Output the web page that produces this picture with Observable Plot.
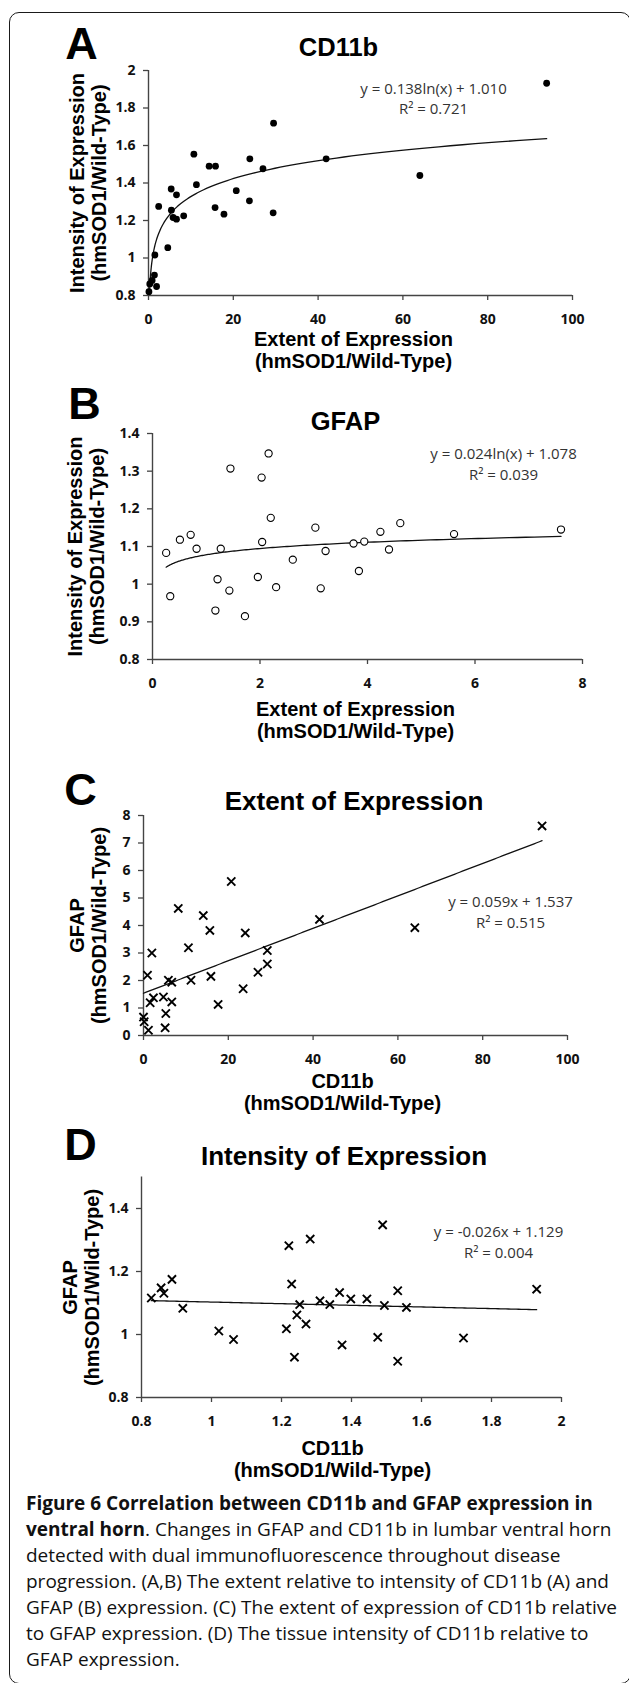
<!DOCTYPE html>
<html><head><meta charset="utf-8">
<script src="https://cdn.jsdelivr.net/npm/d3@7"></script>
<script src="https://cdn.jsdelivr.net/npm/@observablehq/plot@0.6"></script>
<style>
html,body{margin:0;padding:0;background:#fff;}
#fig{position:relative;width:629px;height:1683px;overflow:hidden;background:#fff;}
#frame{position:absolute;left:9px;top:12px;width:622px;height:1672px;box-sizing:border-box;border:1.6px solid #1a1a1a;border-radius:10px;}
.panel{position:absolute;left:0;}
.panel svg{overflow:visible;}
.panel g[aria-label="x-axis tick label"], .panel g[aria-label="y-axis tick label"]{font-family:"Open Sans",sans-serif;font-weight:700;}
#caption{position:absolute;left:26px;top:1490px;font-family:"Open Sans",sans-serif;font-size:19px;line-height:26px;color:#111;white-space:nowrap;}
#caption div{white-space:nowrap;}
#caption b{font-weight:700;}
</style></head><body>
<div id="fig">
<div id="frame"></div>
<div id="pA" class="panel"></div>
<div id="pB" class="panel"></div>
<div id="pC" class="panel"></div>
<div id="pD" class="panel"></div>
<div id="caption"></div>
</div>
<script>
// ---- Panel A: CD11b extent (x) vs intensity (y)
const aX = [0.1,0.3,0.85,1.4,1.9,1.5,2.4,4.55,5.35,5.4,5.8,6.6,6.6,8.3,10.7,11.3,14.3,15.8,15.7,17.8,20.7,23.9,23.8,27.0,29.5,29.4,41.9,64.0,93.9];
const aY = [0.82,0.862,0.88,0.909,0.848,1.016,1.275,1.055,1.368,1.255,1.216,1.207,1.337,1.225,1.554,1.391,1.49,1.49,1.269,1.234,1.359,1.529,1.305,1.476,1.719,1.241,1.529,1.44,1.932];
const aFit = [0.138, 1.010];            // y = a ln(x) + b
const aFitRange = [0.25, 93.9];
const aXTicks = [0,20,40,60,80,100];
const aYTicks = [0.8,1,1.2,1.4,1.6,1.8,2];

// ---- Panel B: GFAP extent (x) vs intensity (y)
const bX = [0.254,0.33,0.51,0.71,0.82,1.17,1.21,1.27,1.43,1.45,1.72,1.96,2.03,2.04,2.16,2.2,2.3,2.61,3.03,3.13,3.22,3.74,3.84,3.94,4.24,4.4,4.61,5.61,7.6];
const bY = [1.083,0.968,1.118,1.131,1.094,0.930,1.013,1.094,0.983,1.307,0.915,1.019,1.283,1.112,1.347,1.176,0.992,1.065,1.150,0.989,1.088,1.108,1.035,1.113,1.139,1.092,1.162,1.133,1.145];
const bFit = [0.024, 1.078];            // y = a ln(x) + b
const bFitRange = [0.254, 7.6];
const bXTicks = [0,2,4,6,8];
const bYTicks = [0.8,0.9,1,1.1,1.2,1.3,1.4];

// ---- Panel C: extent CD11b (x) vs GFAP (y)
const cX = [8.2,14.1,15.65,24.0,41.5,1.97,10.6,29.2,29.2,27.0,0.94,5.87,6.67,11.2,15.9,23.5,1.57,2.35,4.7,6.67,17.6,5.26,0.0,0.16,1.17,5.1,20.7,64.0,94.0];
const cY = [4.62,4.36,3.82,3.73,4.22,3.0,3.19,3.09,2.6,2.30,2.19,2.01,1.94,2.01,2.15,1.70,1.19,1.37,1.40,1.22,1.13,0.80,0.67,0.50,0.19,0.28,5.6,3.92,7.62];
const cFit = [0.059, 1.537];            // y = a x + b
const cFitRange = [0, 94];
const cXTicks = [0,20,40,60,80,100];
const cYTicks = [0,1,2,3,4,5,6,7,8];

// ---- Panel D: intensity CD11b (x) vs GFAP (y)
const dX = [0.828,0.856,0.864,0.887,0.918,1.021,1.063,1.214,1.221,1.229,1.237,1.244,1.252,1.270,1.282,1.310,1.338,1.366,1.373,1.398,1.444,1.475,1.489,1.494,1.532,1.532,1.557,1.720,1.929];
const dY = [1.116,1.148,1.131,1.175,1.083,1.011,0.984,1.018,1.282,1.160,0.928,1.062,1.095,1.033,1.303,1.107,1.095,1.133,0.967,1.113,1.113,0.991,1.348,1.092,1.139,0.915,1.086,0.989,1.144];
const dFit = [-0.026, 1.129];           // y = a x + b
const dFitRange = [0.828, 1.929];
const dXTicks = [0.8,1,1.2,1.4,1.6,1.8,2];
const dYTicks = [0.8,1,1.2,1.4];

const captionLines = [
  ["Figure 6 Correlation between CD11b and GFAP expression in", ""],
  ["ventral horn", ". Changes in GFAP and CD11b in lumbar ventral horn"],
  ["", "detected with dual immunofluorescence throughout disease"],
  ["", "progression. (A,B) The extent relative to intensity of CD11b (A) and"],
  ["", "GFAP (B) expression. (C) The extent of expression of CD11b relative"],
  ["", "to GFAP expression. (D) The tissue intensity of CD11b relative to"],
  ["", "GFAP expression."]
];

const fmt = d3.format("~g");
const AX = "#444";
const SANS = "'Liberation Sans', Arial, Helvetica, sans-serif";

function fitPoints(kind, coef, range) {
  const n = 150, [x0, x1] = range;
  return d3.range(n + 1).map(i => {
    const x = kind === "log" ? x0 * Math.pow(x1 / x0, i / n) : x0 + (x1 - x0) * i / n;
    return {x, y: kind === "log" ? coef[0] * Math.log(x) + coef[1] : coef[0] * x + coef[1]};
  });
}

function panel(id, c) {
  const data = c.xs.map((x, i) => ({x, y: c.ys[i]}));
  const mt = c.T - c.top, mb = c.top + c.H - c.B, ml = c.L, mr = 629 - c.R;
  const at = (p) => ({frameAnchor: "top-left", dx: p[0] - c.L, dy: p[1] - c.T, textAnchor: "middle", lineAnchor: "middle"});
  let dots;
  if (c.marker === "filled") dots = Plot.dot(data, {x: "x", y: "y", r: 3.4, fill: "#000"});
  else if (c.marker === "open") dots = Plot.dot(data, {x: "x", y: "y", r: 3.6, fill: "#fff", stroke: "#000", strokeWidth: 1.1});
  else dots = Plot.dot(data, {x: "x", y: "y", r: 3.8, symbol: "times", stroke: "#000", strokeWidth: 1.9});
  const plot = Plot.plot({
    width: 629, height: c.H,
    marginTop: mt, marginBottom: mb, marginLeft: ml, marginRight: mr,
    style: {background: "transparent", overflow: "visible", fontFamily: SANS},
    x: {domain: c.xDomain, label: null},
    y: {domain: c.yDomain, label: null},
    marks: [
      Plot.axisX({ticks: c.xTicks, tickFormat: fmt, label: null, tickSize: 5, tickPadding: 14, fontSize: 14, fontWeight: "bold", fontFamily: "Open Sans", stroke: AX, fill: "#111", strokeWidth: 1.3}),
      Plot.axisY({ticks: c.yTicks, tickFormat: fmt, label: null, tickSize: 5, tickPadding: 8, fontSize: 14, fontWeight: "bold", fontFamily: "Open Sans", stroke: AX, fill: "#111", strokeWidth: 1.3}),
      Plot.ruleY([c.yDomain[0]], {stroke: AX, strokeWidth: 1.4}),
      Plot.ruleX([c.xDomain[0]], {stroke: AX, strokeWidth: 1.4}),
      Plot.line(fitPoints(c.fitKind, c.fit, c.fitRange), {x: "x", y: "y", stroke: "#111", strokeWidth: 1.3}),
      dots,
      Plot.text([c.letter], {text: d => d, ...at(c.letterPos), fontSize: 45, fontWeight: "bold", fill: "#000"}),
      Plot.text([c.title], {text: d => d, ...at(c.titlePos), fontSize: c.titleSize, fontWeight: "bold", fill: "#000"}),
      Plot.text([c.xLabel], {text: d => d, ...at(c.xLabelPos), fontSize: 20, fontWeight: "bold", lineHeight: 1.1, fill: "#000"}),
      Plot.text([c.yLabel], {text: d => d, ...at(c.yLabelPos), rotate: -90, fontSize: 20, fontWeight: "bold", lineHeight: 1.1, fill: "#000"}),
      Plot.text([c.eq], {text: d => d, ...at(c.eqPos), fontSize: 15, fontFamily: "Open Sans", lineHeight: 1.35, fill: "#333"})
    ]
  });
  const el = document.getElementById(id);
  el.style.top = c.top + "px";
  el.append(plot);
}

panel("pA", {
  top: 0, H: 375, L: 148, R: 572, T: 70, B: 295,
  xs: aX, ys: aY, marker: "filled", xDomain: [0, 100], yDomain: [0.8, 2], xTicks: aXTicks, yTicks: aYTicks,
  fitKind: "log", fit: aFit, fitRange: aFitRange,
  letter: "A", letterPos: [81, 44],
  title: "CD11b", titlePos: [338, 47.5], titleSize: 25.5,
  xLabel: "Extent of Expression\n(hmSOD1/Wild-Type)", xLabelPos: [353, 349],
  yLabel: "Intensity of Expression\n(hmSOD1/Wild-Type)", yLabelPos: [87, 182.5],
  eq: "y = 0.138ln(x) + 1.010\nR\u00b2 = 0.721", eqPos: [433, 97]
});
panel("pB", {
  top: 375, H: 375, L: 152, R: 582, T: 433, B: 659,
  xs: bX, ys: bY, marker: "open", xDomain: [0, 8], yDomain: [0.8, 1.4], xTicks: bXTicks, yTicks: bYTicks,
  fitKind: "log", fit: bFit, fitRange: bFitRange,
  letter: "B", letterPos: [84, 404],
  title: "GFAP", titlePos: [345, 421.5], titleSize: 25.5,
  xLabel: "Extent of Expression\n(hmSOD1/Wild-Type)", xLabelPos: [355, 719],
  yLabel: "Intensity of Expression\n(hmSOD1/Wild-Type)", yLabelPos: [85.5, 546],
  eq: "y = 0.024ln(x) + 1.078\nR\u00b2 = 0.039", eqPos: [503, 462.5]
});
panel("pC", {
  top: 750, H: 380, L: 143, R: 567, T: 815, B: 1035,
  xs: cX, ys: cY, marker: "times", xDomain: [0, 100], yDomain: [0, 8], xTicks: cXTicks, yTicks: cYTicks,
  fitKind: "linear", fit: cFit, fitRange: cFitRange,
  letter: "C", letterPos: [80, 790],
  title: "Extent of Expression", titlePos: [353.5, 801], titleSize: 26,
  xLabel: "CD11b\n(hmSOD1/Wild-Type)", xLabelPos: [342, 1091.5],
  yLabel: "GFAP\n(hmSOD1/Wild-Type)", yLabelPos: [87, 925],
  eq: "y = 0.059x + 1.537\nR\u00b2 = 0.515", eqPos: [510, 910.5]
});
panel("pD", {
  top: 1130, H: 355, L: 141, R: 561, T: 1176.5, B: 1397,
  xs: dX, ys: dY, marker: "times", xDomain: [0.8, 2], yDomain: [0.8, 1.5], xTicks: dXTicks, yTicks: dYTicks,
  fitKind: "linear", fit: dFit, fitRange: dFitRange,
  letter: "D", letterPos: [80, 1145],
  title: "Intensity of Expression", titlePos: [343.5, 1156], titleSize: 26,
  xLabel: "CD11b\n(hmSOD1/Wild-Type)", xLabelPos: [332, 1458.5],
  yLabel: "GFAP\n(hmSOD1/Wild-Type)", yLabelPos: [80, 1287],
  eq: "y = -0.026x + 1.129\nR\u00b2 = 0.004", eqPos: [498, 1240.5]
});

const cap = document.getElementById("caption");
for (const [bold, rest] of captionLines) {
  const line = document.createElement("div");
  if (bold) { const b = document.createElement("b"); b.textContent = bold; line.append(b); }
  if (rest) line.append(document.createTextNode(rest));
  cap.append(line);
}
</script>
</body></html>
